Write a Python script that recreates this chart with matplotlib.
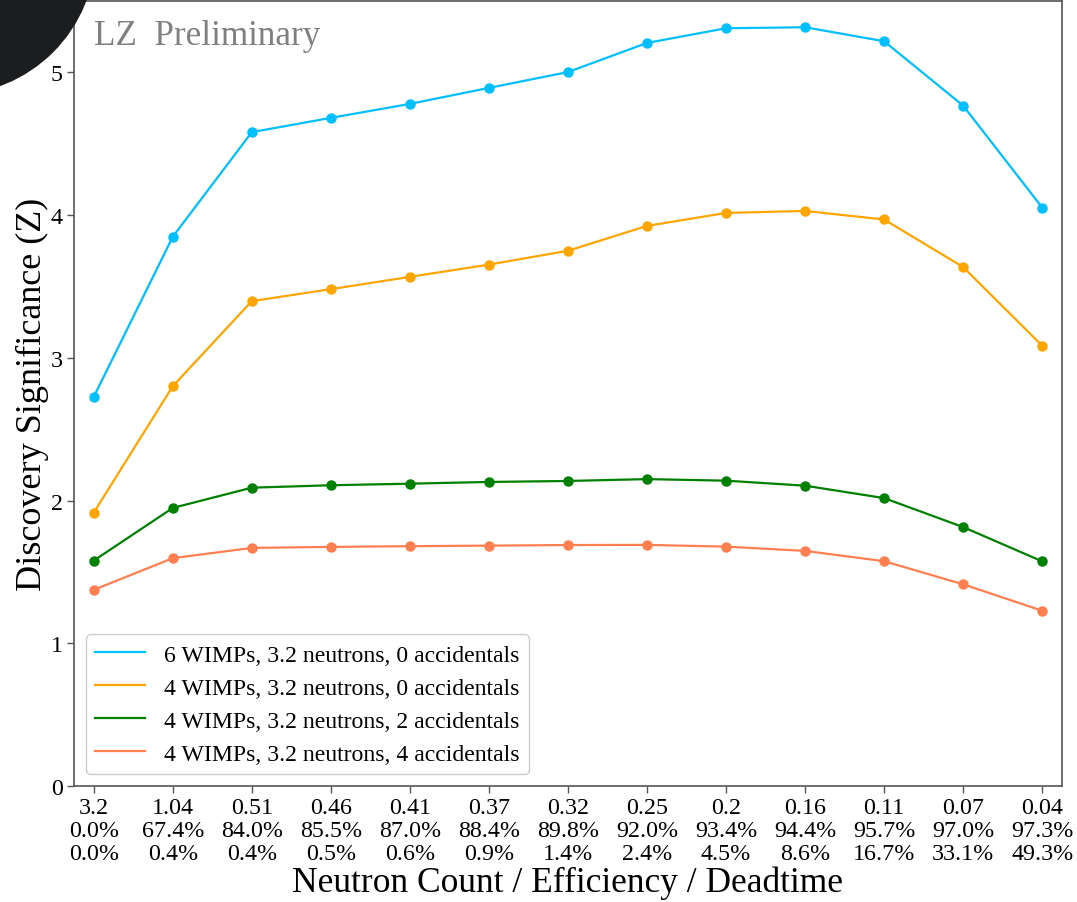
import matplotlib
matplotlib.use("Agg")
import matplotlib.pyplot as plt
from matplotlib.patches import Circle

plt.rcParams['font.family'] = ['Liberation Serif', 'DejaVu Serif']
plt.rcParams['mathtext.fontset'] = 'stix'

neutron_counts = ["3.2", "1.04", "0.51", "0.46", "0.41", "0.37", "0.32", "0.25", "0.2", "0.16", "0.11", "0.07", "0.04"]
efficiency = ["0.0%", "67.4%", "84.0%", "85.5%", "87.0%", "88.4%", "89.8%", "92.0%", "93.4%", "94.4%", "95.7%", "97.0%", "97.3%"]
deadtime = ["0.0%", "0.4%", "0.4%", "0.5%", "0.6%", "0.9%", "1.4%", "2.4%", "4.5%", "8.6%", "16.7%", "33.1%", "49.3%"]

z_6w_0acc = [2.726, 3.848, 4.581, 4.681, 4.779, 4.891, 5.002, 5.206, 5.309, 5.316, 5.218, 4.767, 4.053]
z_4w_0acc = [1.915, 2.801, 3.397, 3.481, 3.567, 3.653, 3.750, 3.924, 4.015, 4.029, 3.969, 3.636, 3.085]
z_4w_2acc = [1.579, 1.948, 2.090, 2.107, 2.118, 2.130, 2.137, 2.150, 2.139, 2.104, 2.017, 1.814, 1.574]
z_4w_4acc = [1.374, 1.596, 1.668, 1.675, 1.680, 1.684, 1.688, 1.689, 1.677, 1.647, 1.575, 1.413, 1.228]

series = [
    ("6 WIMPs, 3.2 neutrons, 0 accidentals", z_6w_0acc, "#00bfff"),
    ("4 WIMPs, 3.2 neutrons, 0 accidentals", z_4w_0acc, "#ffa500"),
    ("4 WIMPs, 3.2 neutrons, 2 accidentals", z_4w_2acc, "#008000"),
    ("4 WIMPs, 3.2 neutrons, 4 accidentals", z_4w_4acc, "#ff7f50"),
]

fig = plt.figure(figsize=(10.77, 9.03), dpi=100)
ax = fig.add_axes([0.0687, 0.1285, 0.9173, 0.8693])

x = list(range(len(neutron_counts)))
handles = []
for label, vals, color in series:
    ax.plot(x, vals, color=color, lw=1.6, marker='o', ms=6.5, zorder=3)
    h, = ax.plot([], [], color=color, lw=1.6, label=label)
    handles.append(h)

ax.set_xlim(-0.25, 12.25)
ax.set_ylim(0, 5.5)
ax.set_yticks([0, 1, 2, 3, 4, 5])
ax.set_xticks(x)
ax.set_xticklabels([f"{a}\n{b}\n{c}" for a, b, c in zip(neutron_counts, efficiency, deadtime)],
                   linespacing=1.13)
ax.tick_params(axis='both', labelsize=17.3, direction='out', length=5, width=1, color='#555555', pad=3)
for s in ax.spines.values():
    s.set_color('#555555')
    s.set_linewidth(1.2)

ax.set_xlabel("Neutron Count / Efficiency / Deadtime", fontsize=25.5, labelpad=1)
ax.set_ylabel("Discovery Significance (Z)", fontsize=26, labelpad=1)

ax.text(0.02, 0.945, "LZ  Preliminary", transform=ax.transAxes, fontsize=25.3,
        color='#808080', va='baseline', ha='left')

leg = ax.legend(handles=handles, loc='lower left', fontsize=17.1, frameon=True,
                fancybox=True, edgecolor='#cccccc', framealpha=1, borderaxespad=0.5,
                handlelength=2.1, labelspacing=0.48)

# slide decoration: dark disc in the top-left corner
fig.patches.append(Circle((-50, 903 + 50), 146, transform=None, facecolor='#1b1d1f',
                          edgecolor='none', zorder=10))

fig.savefig("out.png", dpi=100)
